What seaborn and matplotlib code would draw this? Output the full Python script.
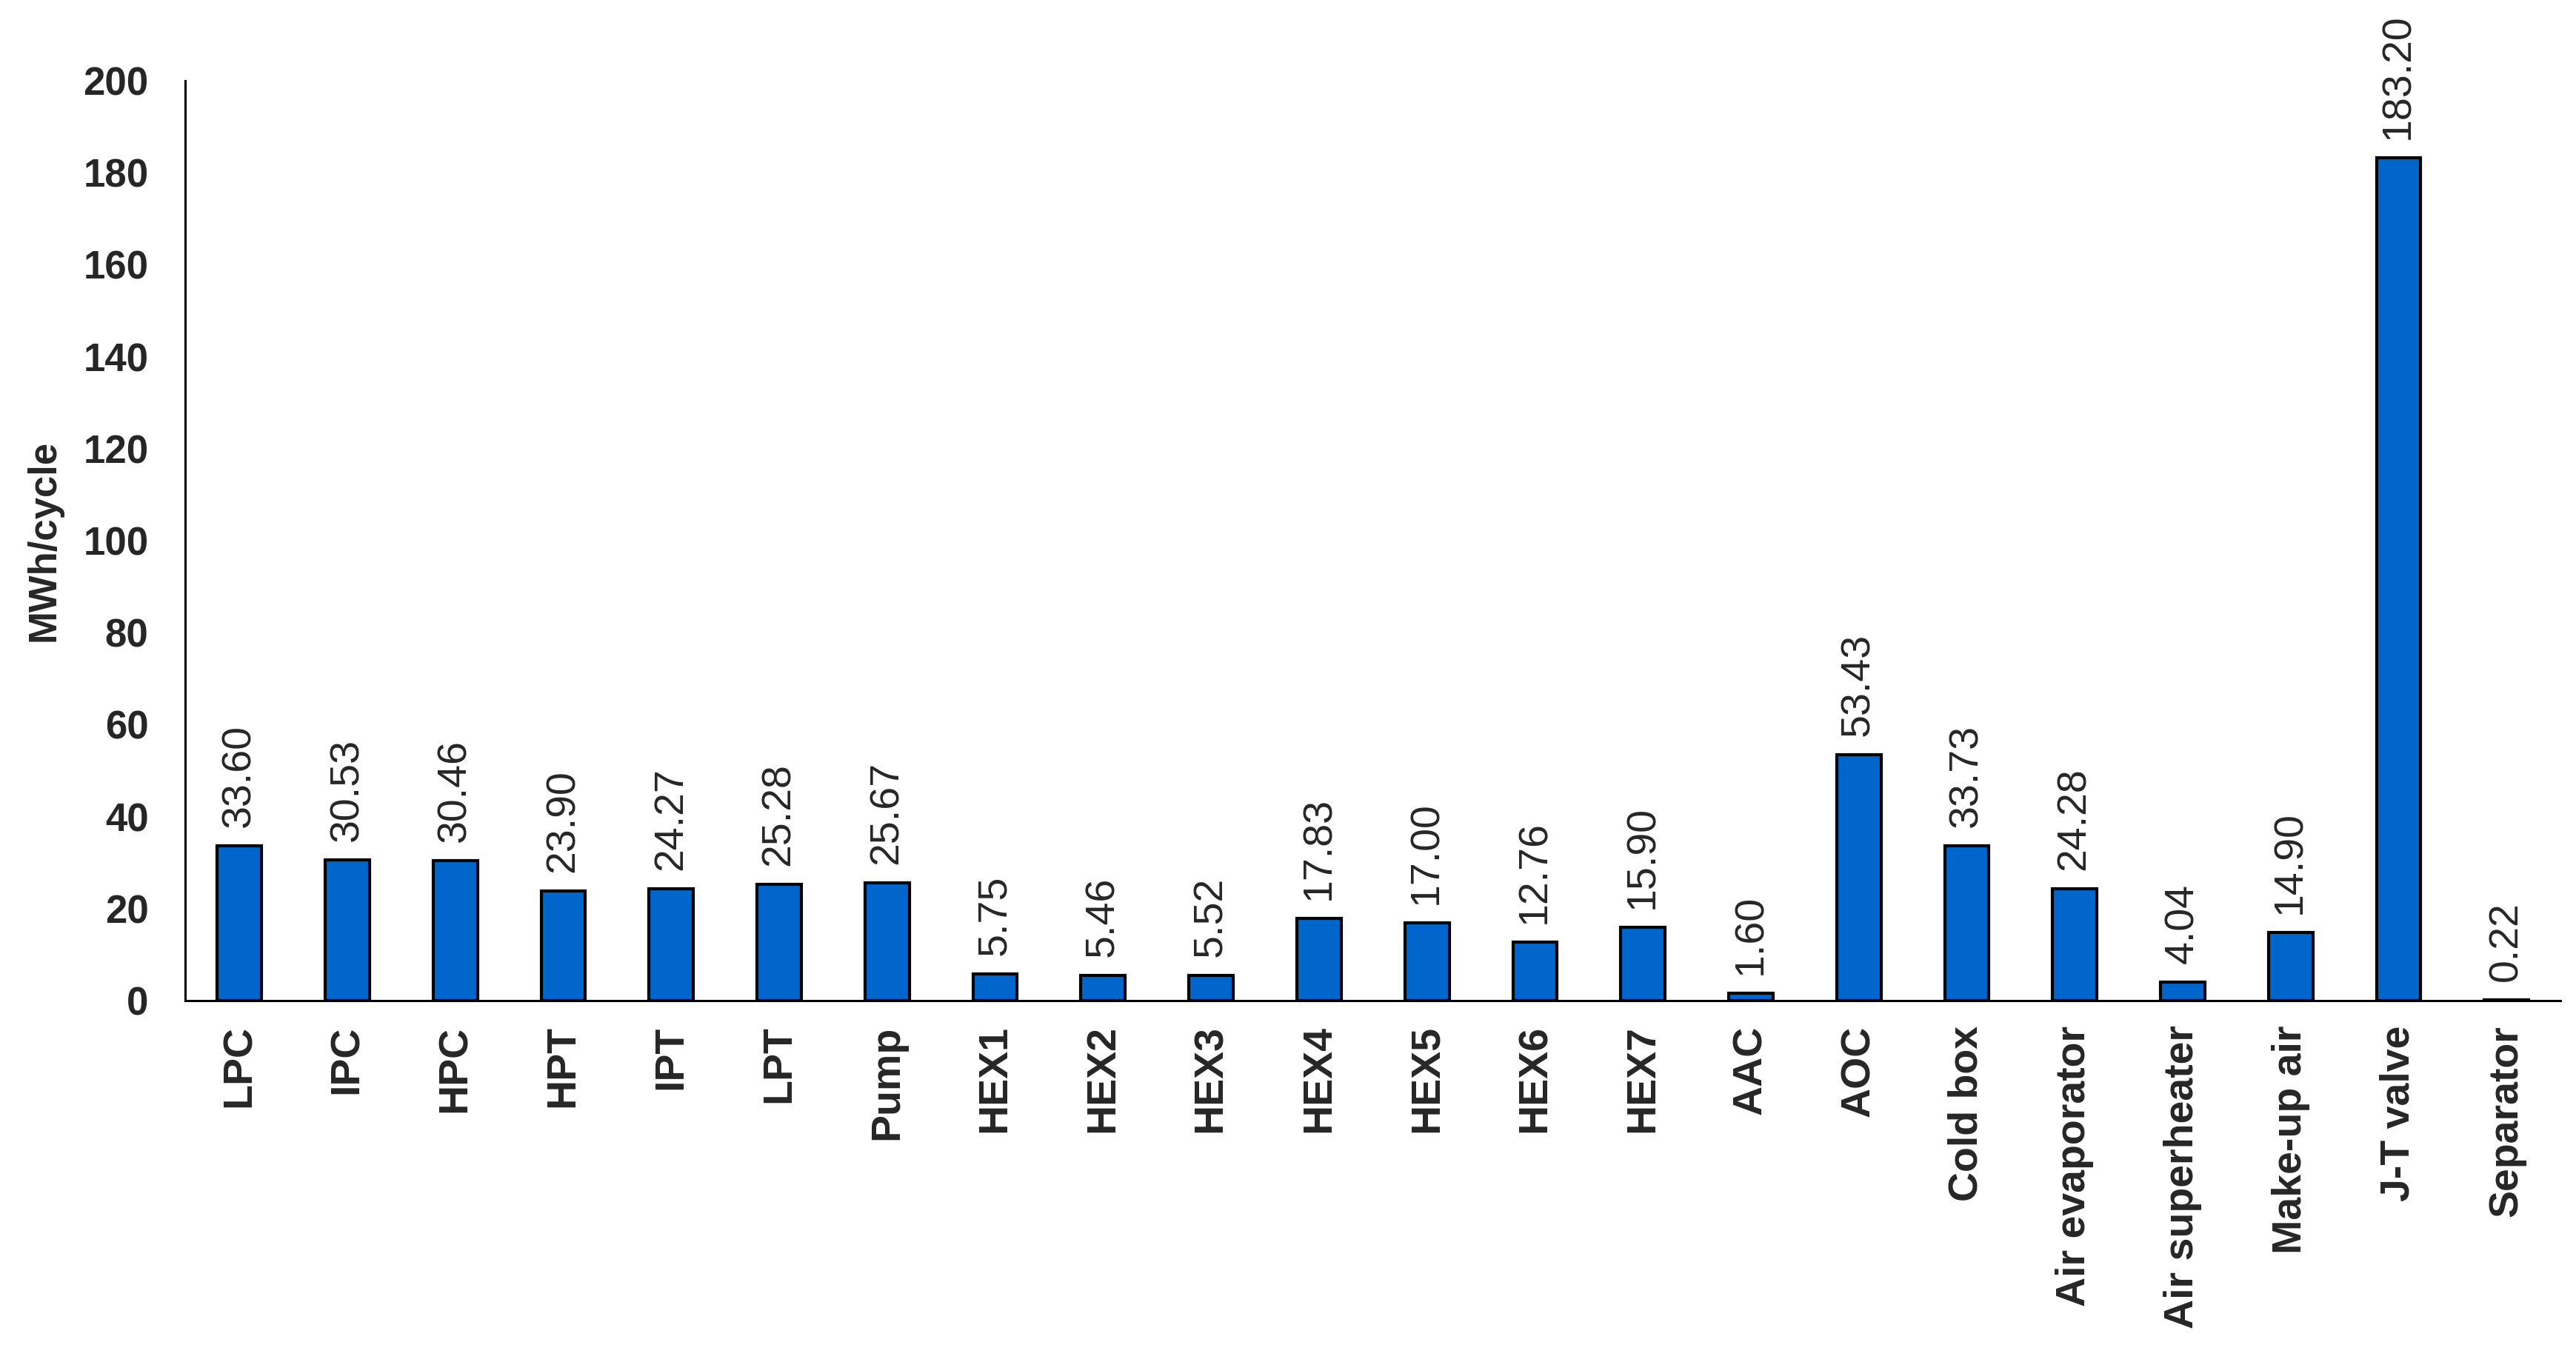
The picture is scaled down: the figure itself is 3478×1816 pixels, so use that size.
import seaborn as sns
import matplotlib.pyplot as plt
import pandas as pd

components = ["LPC", "IPC", "HPC", "HPT", "IPT", "LPT", "Pump", "HEX1", "HEX2", "HEX3",
              "HEX4", "HEX5", "HEX6", "HEX7", "AAC", "AOC", "Cold box", "Air evaporator",
              "Air superheater", "Make-up air", "J-T valve", "Separator"]
energy = [33.60, 30.53, 30.46, 23.90, 24.27, 25.28, 25.67, 5.75, 5.46, 5.52,
          17.83, 17.00, 12.76, 15.90, 1.60, 53.43, 33.73, 24.28,
          4.04, 14.90, 183.20, 0.22]
yticks = [0, 20, 40, 60, 80, 100, 120, 140, 160, 180, 200]

sns.set_style("white")
plt.rcParams['font.family'] = ['Liberation Sans', 'DejaVu Sans']

df = pd.DataFrame({"component": components, "energy": energy})

fig = plt.figure(figsize=(17.39, 9.08), dpi=200)
ax = fig.add_axes([0.072, 0.256, 0.922, 0.684])

sns.barplot(data=df, x="component", y="energy", color="#0066CC", width=0.41,
            edgecolor="black", linewidth=1.5, saturation=1, ax=ax)

# value labels above bars
for i, v in enumerate(energy):
    ax.annotate(f"{v:.2f}", (i, v), xytext=(0, 9), textcoords="offset points",
                rotation=90, ha="center", va="bottom", fontsize=20)

ax.set_ylim(0, 200)
ax.set_xlim(-0.5, len(components) - 0.5)
ax.set_yticks(yticks)
ax.set_yticklabels([str(t) for t in yticks], fontsize=19, fontweight="bold")
ax.set_xticks(range(len(components)))
ax.set_xticklabels(components, rotation=90, fontsize=20, fontweight="bold")
ax.set_xticks([i - 0.5 for i in range(len(components) + 1)], minor=True)
ax.tick_params(axis="x", which="major", length=0, pad=12)
ax.tick_params(axis="x", which="minor", length=8, width=1.1, color="black", direction="out")
ax.tick_params(axis="y", length=8, width=1.1, color="black", direction="out", pad=10)

ax.set_xlabel("")
ax.set_ylabel("MWh/cycle", fontsize=19, fontweight="bold", labelpad=10)

sns.despine(ax=ax)
for s in ["left", "bottom"]:
    ax.spines[s].set_color("black")
    ax.spines[s].set_linewidth(1.1)

fig.savefig("out.png", dpi=200)
